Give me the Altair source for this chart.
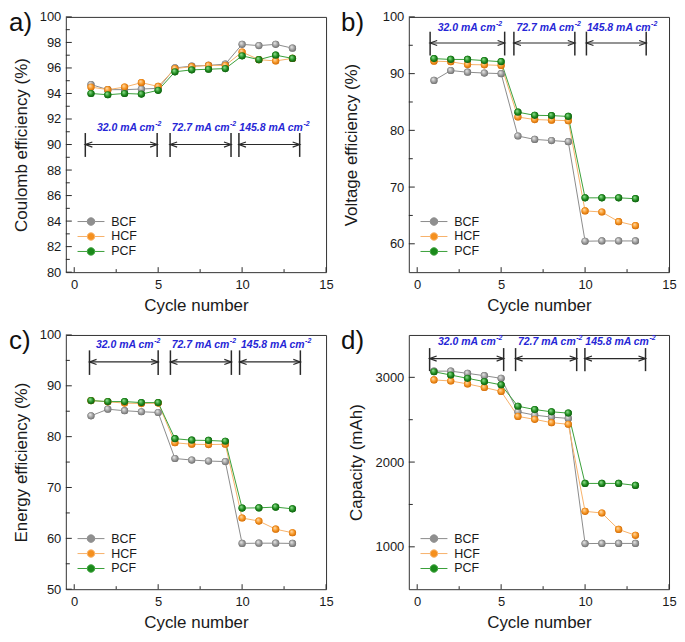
import altair as alt
import pandas as pd

# ---------------- data ----------------
cycles = list(range(1, 14))
series_names = ["BCF", "HCF", "PCF"]

ce_bcf = [94.7, 94.3, 94.3, 94.35, 94.4, 96.0, 96.15, 96.2, 96.3, 97.85, 97.75, 97.85, 97.55]
ce_hcf = [94.5, 94.3, 94.5, 94.85, 94.55, 95.95, 96.1, 96.2, 96.2, 97.25, 96.65, 96.55, 96.75]
ce_pcf = [94.0, 93.9, 94.0, 93.95, 94.25, 95.7, 95.85, 95.9, 95.95, 96.95, 96.65, 97.0, 96.75]

ve_bcf = [88.8, 90.55, 90.25, 90.1, 90.0, 79.0, 78.4, 78.2, 78.0, 60.45, 60.5, 60.5, 60.5]
ve_hcf = [92.2, 92.1, 91.6, 91.55, 91.45, 82.35, 81.9, 81.8, 81.7, 65.8, 65.6, 63.9, 63.2]
ve_pcf = [92.65, 92.5, 92.5, 92.3, 92.1, 83.2, 82.65, 82.6, 82.45, 68.1, 68.1, 68.1, 67.95]

ee_bcf = [84.1, 85.4, 85.1, 84.9, 84.75, 75.7, 75.4, 75.2, 75.1, 59.0, 59.05, 59.05, 59.0]
ee_hcf = [87.1, 86.85, 86.6, 86.5, 86.6, 78.8, 78.5, 78.45, 78.5, 64.0, 63.4, 61.8, 61.1]
ee_pcf = [87.1, 86.9, 86.9, 86.7, 86.7, 79.6, 79.3, 79.25, 79.1, 65.95, 66.0, 66.15, 65.8]

cap_bcf = [3073, 3073, 3047, 3019, 2988, 2593, 2554, 2531, 2515, 1038, 1040, 1040, 1040]
cap_hcf = [2969, 2957, 2922, 2880, 2834, 2539, 2504, 2465, 2446, 1419, 1399, 1205, 1136]
cap_pcf = [3066, 3027, 2988, 2950, 2911, 2659, 2620, 2593, 2578, 1748, 1748, 1748, 1725]

rate_main = ["32.0 mA cm", "72.7 mA cm", "145.8 mA cm"]
rate_sup = ["-2", "-2", "-2"]

# annotation geometry in data units (per panel)
ann_a = dict(x0=[0.66, 5.71, 9.81], x1=[4.94, 9.34, 13.43], ya=90.0, ylo=89.03, yhi=90.9,
             tr=[4.79, 9.25, 13.62], ty=91.07)
ann_b = dict(x0=[0.77, 5.76, 10.08], x1=[5.21, 9.39, 13.64], ya=95.4, ylo=93.2, yhi=97.4,
             tr=[4.66, 9.35, 13.9], ty=97.6)
ann_c = dict(x0=[0.91, 5.73, 9.85], x1=[5.0, 9.36, 13.47], ya=94.7, ylo=92.14, yhi=96.97,
             tr=[4.73, 9.24, 13.72], ty=97.4)
ann_d = dict(x0=[0.74, 5.86, 9.99], x1=[5.15, 9.5, 13.6], ya=3221, ylo=3073, yhi=3345,
             tr=[4.68, 9.44, 13.8], ty=3378)

# ---------------- styles ----------------
FONT = "Liberation Sans"
line_colors = ["#8c8c8c", "#f7b26a", "#3aa03a"]
dot_colors = ["#8f8f8f", "#f5901e", "#1a8a1a"]
grad = {
    "BCF": ["#f0f0f0", "#9c9c9c", "#5a5a5a"],
    "HCF": ["#ffe0b8", "#f7941d", "#b8580a"],
    "PCF": ["#9ee89e", "#1e8c1e", "#0a460a"],
}
W = 261
H_TOP = 256
H_BOT = 255
DOT = 52
ANN_BLUE = "#2626d6"
DARK = "#2a2a2a"

LEG_PATH = ("M-2.7,0L-0.75,0M0.75,0L2.7,0"
            "M0.75,0A0.75,0.75,0,1,1,-0.75,0A0.75,0.75,0,1,1,0.75,0Z")


def make_panel(vals, ydom, ymajor, yminor, ytitle, ann, letter, letter_dx, title_pad, H):
    df = pd.DataFrame({
        "cycle": cycles * 3,
        "value": vals[0] + vals[1] + vals[2],
        "series": [s for s in series_names for _ in cycles],
    })
    xs = alt.Scale(domain=[-0.5, 15], nice=False, zero=False)
    ys = alt.Scale(domain=ydom, nice=False, zero=False)

    xaxis = alt.Axis(values=[0, 5, 10, 15], title="Cycle number", ticks=False,
                     domain=False, grid=False, labelFlush=False, labelPadding=6,
                     titlePadding=6, labelFontSize=13, titleFontSize=17,
                     titleFontWeight="normal", labelFont=FONT, titleFont=FONT,
                     labelColor="#1a1a1a", titleColor="#1a1a1a", format="d")
    yaxis = alt.Axis(values=ymajor, title=ytitle, ticks=False, domain=False,
                     grid=False, labelPadding=5, titlePadding=title_pad, labelFontSize=13,
                     titleFontSize=17, titleFontWeight="normal", labelFont=FONT,
                     titleFont=FONT, labelColor="#1a1a1a", titleColor="#1a1a1a", format="d")

    legend = alt.Legend(orient="none", legendX=19, legendY=H - 57, title=None,
                        symbolType=LEG_PATH, symbolSize=100, symbolStrokeWidth=1,
                        labelFontSize=12.5, labelFont=FONT, labelColor="#1a1a1a",
                        labelOffset=14, rowPadding=2, padding=0)

    X = lambda f: alt.X(f, scale=xs, title="Cycle number", axis=xaxis)
    Y = lambda f: alt.Y(f, scale=ys, title=ytitle, axis=yaxis)

    base = alt.Chart(df)
    lines = base.mark_line(strokeWidth=1).encode(
        x=X("cycle:Q"), y=Y("value:Q"),
        stroke=alt.Stroke("series:N", scale=alt.Scale(domain=series_names, range=line_colors),
                          legend=legend),
    )
    flat = base.mark_point(filled=True, size=DOT, opacity=1).encode(
        x=X("cycle:Q"), y=Y("value:Q"),
        fill=alt.Fill("series:N", scale=alt.Scale(domain=series_names, range=dot_colors),
                      legend=legend),
    )
    layers = [lines, flat]
    for s in series_names:
        c0, c1, c2 = grad[s]
        g = {"gradient": "radial", "x1": 0.35, "y1": 0.3, "r1": 0.0,
             "x2": 0.5, "y2": 0.5, "r2": 0.62,
             "stops": [{"offset": 0, "color": c0}, {"offset": 0.55, "color": c1},
                       {"offset": 1, "color": c2}]}
        layers.append(
            base.transform_filter(alt.datum.series == s)
            .mark_point(filled=True, size=DOT, opacity=1, fill=g, strokeWidth=0)
            .encode(x=X("cycle:Q"), y=Y("value:Q"))
        )

    # inward ticks
    def xticks(vals_, ln):
        return alt.Chart(pd.DataFrame({"t": vals_})).mark_rule(color=DARK, strokeWidth=1).encode(
            x=X("t:Q"), y=alt.value(H), y2=alt.value(H - ln))

    def yticks(vals_, ln):
        return alt.Chart(pd.DataFrame({"t": vals_})).mark_rule(color=DARK, strokeWidth=1).encode(
            y=Y("t:Q"), x=alt.value(0), x2=alt.value(ln))

    layers += [xticks([0, 5, 10, 15], 5), xticks([2.5, 7.5, 12.5], 3),
               yticks(ymajor, 6), yticks(yminor, 4)]

    # annotations
    segs = pd.DataFrame({"x0": ann["x0"], "x1": ann["x1"], "y": [ann["ya"]] * 3})
    bars = pd.DataFrame({"x": ann["x0"] + ann["x1"], "lo": [ann["ylo"]] * 6, "hi": [ann["yhi"]] * 6})
    txt = pd.DataFrame({"x": ann["tr"], "y": [ann["ty"]] * 3, "label": rate_main, "sup": rate_sup})

    layers.append(alt.Chart(segs).mark_rule(color=DARK, strokeWidth=1.2).encode(
        x=X("x0:Q"), x2="x1:Q", y=Y("y:Q")))
    layers.append(alt.Chart(bars).mark_rule(color=DARK, strokeWidth=1.5).encode(
        x=X("x:Q"), y=Y("lo:Q"), y2="hi:Q"))
    layers.append(alt.Chart(segs).mark_point(shape="M1,-0.36L0,0L1,0.36", size=200,
                                             filled=False, color=DARK, strokeWidth=1.2, opacity=1).encode(
        x=X("x0:Q"), y=Y("y:Q")))
    layers.append(alt.Chart(segs).mark_point(shape="M-1,-0.36L0,0L-1,0.36", size=200,
                                             filled=False, color=DARK, strokeWidth=1.2, opacity=1).encode(
        x=X("x1:Q"), y=Y("y:Q")))
    layers.append(alt.Chart(txt).mark_text(align="right", baseline="alphabetic", font=FONT,
                                           fontSize=10.5, fontStyle="italic", fontWeight="bold",
                                           color=ANN_BLUE).encode(
        x=X("x:Q"), y=Y("y:Q"), text="label:N"))
    layers.append(alt.Chart(txt).mark_text(align="left", baseline="alphabetic", font=FONT,
                                           fontSize=7, fontStyle="italic", fontWeight="bold",
                                           color=ANN_BLUE, dx=0.5, dy=-5).encode(
        x=X("x:Q"), y=Y("y:Q"), text="sup:N"))

    layers.append(alt.Chart(pd.DataFrame({"t": [letter]})).mark_text(
        align="left", baseline="alphabetic", font=FONT, fontSize=26, color="#111111").encode(
        text="t:N", x=alt.value(letter_dx), y=alt.value(14)))

    return alt.layer(*layers).properties(width=W, height=H)


pa = make_panel([ce_bcf, ce_hcf, ce_pcf], [80, 100], list(range(80, 101, 2)),
                list(range(81, 100, 2)), "Coulomb efficiency (%)", ann_a, "a)", -57, 9, H_TOP)
pb = make_panel([ve_bcf, ve_hcf, ve_pcf], [55, 100], [60, 70, 80, 90, 100],
                [65, 75, 85, 95], "Voltage efficiency (%)", ann_b, "b)", -68, 22, H_TOP)
pc = make_panel([ee_bcf, ee_hcf, ee_pcf], [50, 100], [50, 60, 70, 80, 90, 100],
                [55, 65, 75, 85, 95], "Energy efficiency (%)", ann_c, "c)", -57, 9, H_BOT)
pd_ = make_panel([cap_bcf, cap_hcf, cap_pcf], [500, 3500], [1000, 2000, 3000],
                 [1500, 2500], "Capacity (mAh)", ann_d, "d)", -68, 10, H_BOT)

chart = alt.concat(pa, pb, pc, pd_, columns=2, spacing={"row": 63, "column": 83},
                   bounds="flush").resolve_scale(
    stroke="independent", fill="independent"
).properties(
    padding={"left": 0, "top": 0, "right": 0, "bottom": 0}
).configure_view(stroke="#333333", strokeWidth=1)

chart.save("out.html", embed_options={"renderer": "svg", "actions": False})
